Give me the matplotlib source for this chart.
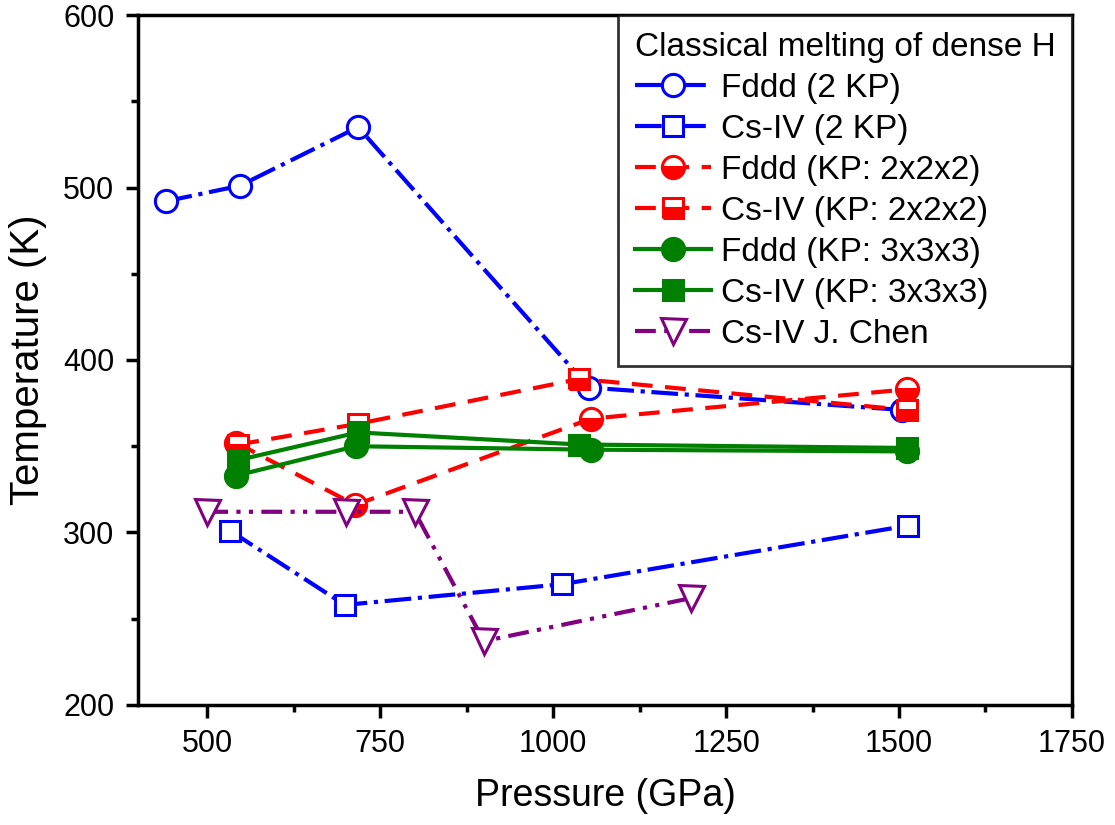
import matplotlib
matplotlib.use("Agg")
import matplotlib.pyplot as plt
from matplotlib.ticker import MultipleLocator

plt.rcParams['font.family'] = ['Liberation Sans', 'DejaVu Sans']

# Fddd / Cs-IV melting temperatures (K) vs pressure (GPa)
fddd_2kp_p = [440, 547, 718, 1052, 1505]
fddd_2kp_t = [492, 501, 535, 384, 371]

csiv_2kp_p = [533, 699, 1013, 1513]
csiv_2kp_t = [301, 258, 270, 304]

fddd_222_p = [542, 714, 1055, 1512]
fddd_222_t = [352, 316, 366, 383]

csiv_222_p = [545, 718, 1038, 1512]
csiv_222_t = [351, 363, 389, 371]

fddd_333_p = [542, 715, 1055, 1512]
fddd_333_t = [333, 350, 348, 347]

csiv_333_p = [545, 718, 1038, 1512]
csiv_333_t = [342, 358, 351, 349]

chen_p = [500, 700, 800, 900, 1200]
chen_t = [312, 312, 312, 237, 262]

fig = plt.figure(figsize=(11.15, 8.25), dpi=100)
ax = fig.add_axes([0.1238, 0.1455, 0.8376, 0.8363])

ms = 16
mew = 2.2
lw = 3

ax.plot(fddd_2kp_p, fddd_2kp_t, color='blue', ls='-.', lw=lw, marker='o', ms=ms,
        mfc='white', mec='blue', mew=mew, label='Fddd (2 KP)')
ax.plot(csiv_2kp_p, csiv_2kp_t, color='blue', ls='-.', lw=lw, marker='s', ms=ms - 1,
        mfc='white', mec='blue', mew=mew, label='Cs-IV (2 KP)')
ax.plot(fddd_222_p, fddd_222_t, color='red', ls=(0, (5, 3)), lw=lw, marker='o', ms=ms,
        fillstyle='bottom', mfc='red', mfcalt='white', mec='red', mew=mew,
        label='Fddd (KP: 2x2x2)')
ax.plot(csiv_222_p, csiv_222_t, color='red', ls=(0, (5, 3)), lw=lw, marker='s', ms=ms - 1,
        fillstyle='bottom', mfc='red', mfcalt='white', mec='red', mew=mew,
        label='Cs-IV (KP: 2x2x2)')
ax.plot(fddd_333_p, fddd_333_t, color='green', ls='-', lw=lw, marker='o', ms=ms,
        mfc='green', mec='green', mew=mew, label='Fddd (KP: 3x3x3)')
ax.plot(csiv_333_p, csiv_333_t, color='green', ls='-', lw=lw, marker='s', ms=ms - 1,
        mfc='green', mec='green', mew=mew, label='Cs-IV (KP: 3x3x3)')
ax.plot(chen_p, chen_t, color='purple', ls=(0, (5, 2, 1, 2, 1, 2)), lw=lw, marker='v',
        ms=ms + 2, mfc='white', mec='purple', mew=mew, label='Cs-IV J. Chen')

ax.set_xlim(400, 1750)
ax.set_ylim(200, 600)
ax.xaxis.set_major_locator(MultipleLocator(250))
ax.xaxis.set_minor_locator(MultipleLocator(125))
ax.yaxis.set_major_locator(MultipleLocator(100))
ax.yaxis.set_minor_locator(MultipleLocator(50))

for s in ax.spines.values():
    s.set_linewidth(2.5)
ax.tick_params(which='major', direction='out', length=9, width=2.5, pad=8, labelsize=22)
ax.tick_params(which='minor', direction='out', length=5, width=2.5)

ax.set_xlabel('Pressure (GPa)', fontsize=27, labelpad=14)
ax.set_ylabel('Temperature (K)', fontsize=29, labelpad=12)

leg = ax.legend(title='Classical melting of dense H', loc='upper right', fontsize=24,
                title_fontsize=24, frameon=True, fancybox=False, edgecolor='black',
                handlelength=2.3, borderaxespad=0, labelspacing=0.3, borderpad=0.5,
                handletextpad=0.3, markerscale=1.0)
leg.get_frame().set_linewidth(2)
leg._legend_box.align = 'left'

fig.savefig('out.png', dpi=100)
